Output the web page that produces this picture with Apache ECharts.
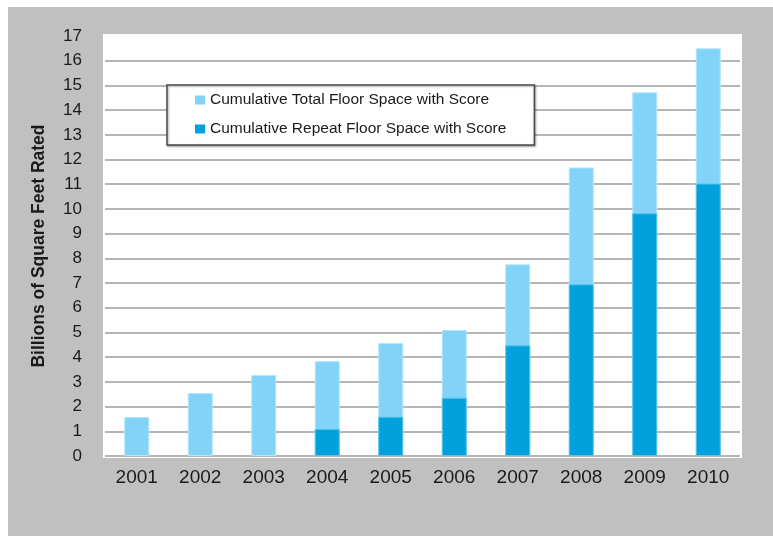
<!DOCTYPE html>
<html>
<head>
<meta charset="utf-8">
<script src="https://cdn.jsdelivr.net/npm/echarts@6/dist/echarts.min.js"></script>
<style>
  html, body { margin: 0; padding: 0; background: #ffffff; }
  #frame { position: absolute; left: 8px; top: 7px; width: 765px; height: 529px; background: #c0c0c0; }
  #chart { position: absolute; left: 0; top: 0; width: 773px; height: 536px; }
</style>
</head>
<body>
<div id="frame"></div>
<div id="chart"></div>
<script>
// Years on the category axis
const years = ['2001', '2002', '2003', '2004', '2005', '2006', '2007', '2008', '2009', '2010'];
// Cumulative floor space with an ENERGY STAR score, billions of sq ft
const totalSpace = [1.58, 2.55, 3.28, 3.84, 4.57, 5.10, 7.76, 11.68, 14.72, 16.50];
// Cumulative floor space scored more than once
const repeatSpace = [null, null, null, 1.10, 1.59, 2.36, 4.48, 6.95, 9.83, 11.03];
const seriesNames = ['Cumulative Total Floor Space with Score', 'Cumulative Repeat Floor Space with Score'];
const axisTitle = 'Billions of Square Feet Rated';

const FONT = 'Arial, "Liberation Sans", sans-serif';
const chart = echarts.init(document.getElementById('chart'), null, { renderer: 'canvas' });

chart.setOption({
  backgroundColor: 'transparent',
  animation: false,
  graphic: [
    // white plotting panel
    { type: 'rect', z: -10, silent: true,
      shape: { x: 103, y: 34, width: 639, height: 424 },
      style: { fill: '#ffffff' } },
    // hide the split line at the axis maximum
    { type: 'rect', z: 100, silent: true,
      shape: { x: 104, y: 34, width: 637, height: 3 },
      style: { fill: '#ffffff' } }
  ],
  grid: { left: 105, right: 33, top: 36, bottom: 80, containLabel: false },
  legend: {
    data: seriesNames,
    orient: 'vertical',
    left: 167, top: 85,
    padding: [7, 28, 8, 28],
    itemGap: 13,
    itemWidth: 10, itemHeight: 9,
    icon: 'rect',
    itemStyle: { borderWidth: 0 },
    backgroundColor: '#ffffff',
    borderColor: '#4a4a4a', borderWidth: 1.5,
    shadowColor: 'rgba(0,0,0,0.35)', shadowBlur: 2, shadowOffsetX: 1, shadowOffsetY: 1,
    textStyle: { fontFamily: FONT, fontSize: 15.5, color: '#1a1a1a' }
  },
  xAxis: {
    type: 'category',
    data: years,
    axisLine: { show: false },
    axisTick: { show: false },
    axisLabel: { fontFamily: FONT, fontSize: 19, color: '#1a1a1a', margin: 12 }
  },
  yAxis: {
    type: 'value',
    min: 0, max: 17, interval: 1,
    name: axisTitle,
    nameLocation: 'middle',
    nameRotate: 90,
    nameGap: 57,
    nameTextStyle: { fontFamily: FONT, fontSize: 17.5, fontWeight: 'bold', color: '#1a1a1a' },
    axisLine: { show: false },
    axisTick: { show: false },
    axisLabel: { fontFamily: FONT, fontSize: 17, color: '#1a1a1a', margin: 23 },
    splitLine: { lineStyle: { color: '#9c9c9c', width: 1.5 } }
  },
  series: [
    {
      name: seriesNames[0],
      type: 'bar',
      data: totalSpace,
      barWidth: 25,
      barGap: '-100%',
      itemStyle: { color: '#82d3f8', borderColor: '#b3e5fb', borderWidth: 1 }
    },
    {
      name: seriesNames[1],
      type: 'bar',
      data: repeatSpace,
      barWidth: 25,
      itemStyle: { color: '#00a1dd', borderColor: '#5cc3ec', borderWidth: 1 }
    }
  ]
});
</script>
</body>
</html>
